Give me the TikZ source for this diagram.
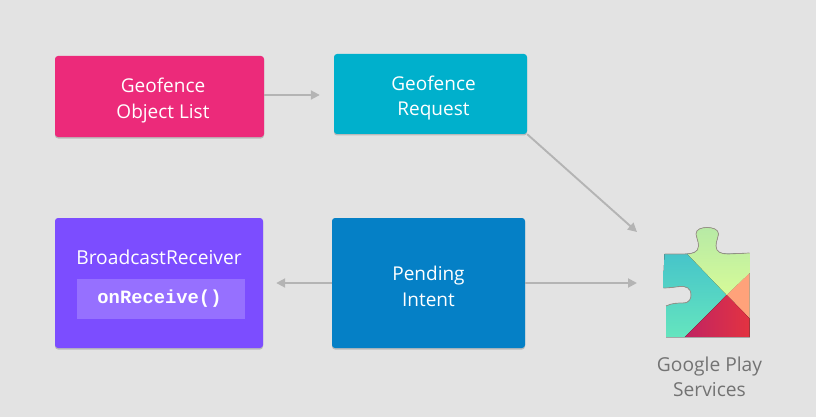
\documentclass[tikz,border=0pt]{standalone}
\usepackage{fontspec}
\setmainfont{Open Sans}
\setmonofont{Liberation Mono}
\usetikzlibrary{arrows.meta,shadows}
\definecolor{bgc}{HTML}{E3E3E3}
\definecolor{pinkc}{HTML}{EC2A7A}
\definecolor{cyanc}{HTML}{00B0CC}
\definecolor{purplec}{HTML}{7C4DFF}
\definecolor{bluec}{HTML}{0580C6}
\definecolor{innerc}{HTML}{9670FF}
\definecolor{arrowc}{HTML}{B4B4B4}
\definecolor{pzTealT}{HTML}{45C3CA}
\definecolor{pzTealB}{HTML}{66E6BE}
\definecolor{pzLimeT}{HTML}{B6E9A6}
\definecolor{pzLimeB}{HTML}{D6FB98}
\definecolor{pzOrange}{HTML}{FFA27A}
\definecolor{pzRedL}{HTML}{BE2364}
\definecolor{pzRedR}{HTML}{E6343E}
\definecolor{pzEdge}{HTML}{9A9088}
\newcommand{\boxtxt}[4]{\hspace*{#1}\raisebox{#2}[0pt][0pt]{\begin{tabular}{@{}c@{}}#3\\#4\end{tabular}}}
\tikzset{
  box/.style={rounded corners=3pt,inner sep=0pt,align=center,text=white,font=\fontsize{19}{25.5}\selectfont,
    drop shadow={shadow xshift=0pt,shadow yshift=-1.5pt,opacity=.18,fill=black}},
  flow/.style={draw=arrowc,line width=1.9pt,-{Triangle[length=9pt,width=9pt]}},
  plain/.style={inner sep=0pt,align=center},
}
\def\pztop{(664.5,254) -- (685,254)
  .. controls (692,254) and (698.5,252.5) .. (698.5,246)
  .. controls (698.5,240) and (696,238) .. (696,234)
  .. controls (696,229) and (702,227.5) .. (707,227.5)
  .. controls (712,227.5) and (718.5,229) .. (718.5,234)
  .. controls (718.5,238) and (716,240) .. (716,246)
  .. controls (716,252) and (721,254) .. (728,254)
  -- (749.5,253)}
\def\pznotch{(666,306)
  .. controls (672,303) and (678,303) .. (683,303)
  .. controls (690,303) and (691,298) .. (691,295)
  .. controls (691,288) and (686,286) .. (680,286.5)
  .. controls (674,287) and (670,288) .. (663.5,288)}
\begin{document}
\begin{tikzpicture}[x=1pt,y=-1pt]
\useasboundingbox (0,0) rectangle (816,417);
\fill[bgc] (0,0) rectangle (816,417);
\node[box,fill=pinkc,minimum width=209pt,minimum height=81pt] (objlist) at (159.5,96.5) {\boxtxt{7pt}{-8.25pt}{Geofence}{Object List}};
\node[box,fill=cyanc,minimum width=193pt,minimum height=80pt] (request) at (430.5,94) {\boxtxt{6pt}{-8.25pt}{Geofence}{Request}};
\node[box,fill=purplec,minimum width=208pt,minimum height=130pt] (receiver) at (159,283) {};
\node[box,fill=bluec,minimum width=193pt,minimum height=130pt] (pending) at (428.5,283) {\boxtxt{0pt}{-9.75pt}{Pending}{Intent}};
\node[plain,text=white,font=\fontsize{19.2}{22}\selectfont] (brname) at (159,257) {BroadcastReceiver};
\node[plain,fill=innerc,minimum width=168pt,minimum height=40pt,text=white,font=\fontsize{18.8}{22}\selectfont\ttfamily\bfseries] (method) at (161,299) {\hspace*{-3pt}onReceive()};
% puzzle piece
\begin{scope}
\clip \pztop -- (749.5,337) -- (666,337) -- \pznotch -- (663.5,276) -- (664.5,254) -- cycle;
\fill[top color=pzTealT,bottom color=pzTealB] (660,250) rectangle (755,340);
\fill[top color=pzLimeT,bottom color=pzLimeB] (684,225) -- (755,225) -- (755,268) -- (726.7,295) -- (688.3,255) -- (684,250) -- cycle;
\fill[pzOrange] (726.7,295) -- (755,268) -- (755,324) -- cycle;
\fill[left color=pzRedL,right color=pzRedR] (726.7,295) -- (755,324) -- (755,340) -- (682,340) -- cycle;
\end{scope}
\draw[pzEdge,line width=.7pt] \pztop;
\draw[pzEdge,line width=.7pt] \pznotch;
\draw[black!35,line width=.6pt] (666,337.3) -- (749.5,337.3);
\node[plain,text=black!55,font=\fontsize{19.2}{25.5}\selectfont] (gps) at (709.5,377) {Google Play\\Services};
\coordinate (gpsTop) at (637,232);
\coordinate (gpsMid) at (637,283);
\draw[flow] ([yshift=1.5pt]objlist.east) -- ([xshift=-14pt,yshift=-1pt]request.west);
\draw[flow] (request.south east) -- (gpsTop);
\draw[flow] (pending.west) -- ([xshift=13pt]receiver.east);
\draw[flow] (pending.east) -- (gpsMid);
\end{tikzpicture}
\end{document}
